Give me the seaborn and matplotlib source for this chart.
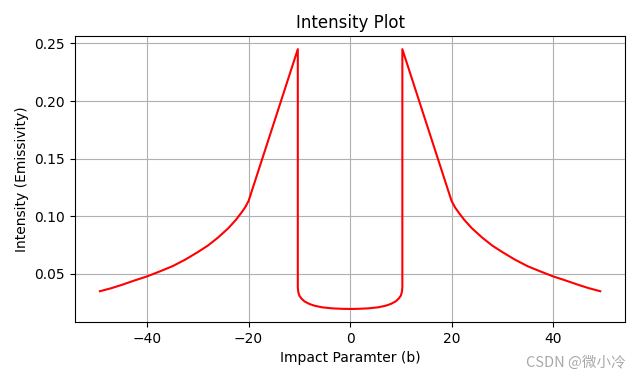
import numpy as np
import matplotlib.pyplot as plt
import seaborn as sns

# right half of the profile (b >= 0); the left half is its mirror
outer_b = [49.3, 47, 45, 42.5, 40, 37.5, 35, 32.5, 30, 28, 26, 24, 22.5, 21.5, 20.7, 20, 10.3]
outer_i = [0.0348, 0.0375, 0.0403, 0.0441, 0.0477, 0.0520, 0.0565, 0.0622, 0.0688, 0.0745,
           0.0815, 0.0895, 0.0968, 0.1025, 0.1075, 0.1132, 0.2450]
inner_b = [10.3, 10.2, 10.0, 9.6, 9.0, 8.0, 7.0, 5.5, 3.5, 1.5, 0.0]
inner_i = [0.0380, 0.0340, 0.0310, 0.0285, 0.0260, 0.0237, 0.0222, 0.0208, 0.0199, 0.0195, 0.0194]

# build the whole path from left edge to right edge
right_b = outer_b + inner_b
right_i = outer_i + inner_i
b = [-v for v in right_b] + right_b[::-1][1:]
inten = right_i + right_i[::-1][1:]

fig = plt.figure(figsize=(6.4, 3.81), dpi=100)
ax = fig.add_axes([0.117, 0.155, 0.86, 0.75])
sns.lineplot(x=b, y=inten, sort=False, estimator=None, color="red", linewidth=1.5, ax=ax)

ax.set_xlabel("Impact Paramter (b)")
ax.set_ylabel("Intensity (Emissivity)")
ax.set_title("Intensity Plot")
ax.grid(True)

fig.text(0.977, 0.03, "CSDN @微小冷", ha="right", va="bottom", color="#a8a8a8",
         fontsize=10.5, family=["Noto Sans CJK SC", "DejaVu Sans"])

fig.savefig("out.png", dpi=100)
